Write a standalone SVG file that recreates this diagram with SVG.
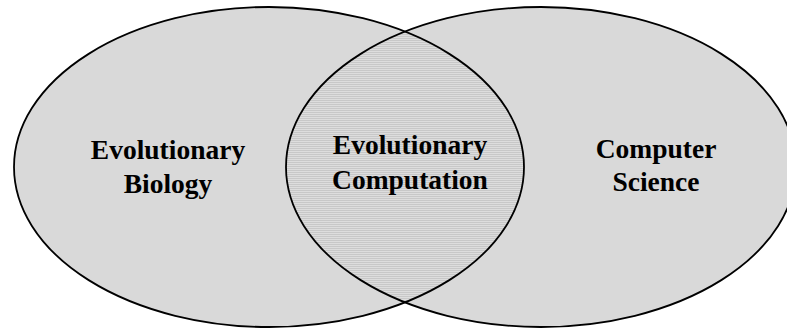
<svg xmlns="http://www.w3.org/2000/svg" width="787" height="329" viewBox="0 0 787 329">
  <style>
    .set { fill: #d9d9d9; stroke: none; }
    .edge { fill: none; stroke: #000; stroke-width: 1.8; }
    .label { font-family: "Liberation Serif", "Times New Roman", serif; font-weight: bold; font-size: 27.5px; fill: #000; text-anchor: middle; }
  </style>
  <defs>
    <pattern id="hatch" width="8" height="2" patternUnits="userSpaceOnUse">
      <rect width="8" height="2" fill="#dddddd"/>
      <rect width="8" height="1" fill="#c8c8c8"/>
    </pattern>
    <clipPath id="clipLeft">
      <ellipse cx="269" cy="167" rx="255" ry="160"/>
    </clipPath>
  </defs>
  <rect width="787" height="329" fill="#fff"/>

  <!-- set fills -->
  <g id="biology">
    <ellipse class="set" cx="269" cy="167" rx="255" ry="160"/>
  </g>
  <g id="computer-science">
    <ellipse class="set" cx="541" cy="167" rx="255" ry="160"/>
  </g>
  <g id="overlap">
    <ellipse cx="541" cy="167" rx="255" ry="160" fill="url(#hatch)" clip-path="url(#clipLeft)"/>
  </g>

  <!-- outlines -->
  <g id="outlines">
    <ellipse class="edge" cx="269" cy="167" rx="255" ry="160"/>
    <ellipse class="edge" cx="541" cy="167" rx="255" ry="160"/>
  </g>

  <!-- labels -->
  <g id="label-biology">
    <text class="label" x="168" y="159">Evolutionary</text>
    <text class="label" x="168" y="193">Biology</text>
  </g>
  <g id="label-computation">
    <text class="label" x="410" y="154">Evolutionary</text>
    <text class="label" x="410" y="189">Computation</text>
  </g>
  <g id="label-cs">
    <text class="label" x="656" y="158">Computer</text>
    <text class="label" x="656" y="191">Science</text>
  </g>
</svg>
